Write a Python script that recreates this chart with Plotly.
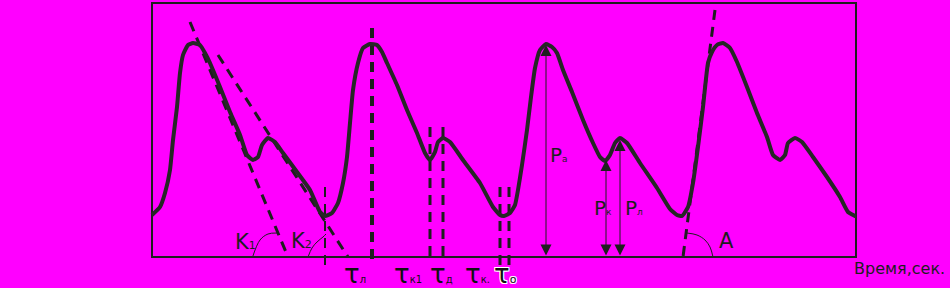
import plotly.graph_objects as go

# ---- data (time in ms, pressure in arbitrary units) ----
time_ms = [0, 40, 65, 90, 105, 125, 140, 155, 180, 205, 240, 265, 290, 340, 390, 440, 475, 505, 530, 550, 580, 615, 655, 725, 790, 840, 865,
           900, 930, 955, 975, 990, 1005, 1030, 1055, 1090, 1125, 1150, 1175, 1225, 1275, 1325, 1365, 1390, 1415, 1430, 1455, 1490, 1555, 1640, 1705, 1740, 1760,
           1790, 1815, 1830, 1850, 1875, 1895, 1915, 1940, 1970, 2000, 2025, 2055, 2100, 2155, 2205, 2240, 2265, 2290, 2315, 2340, 2375, 2440, 2525, 2590, 2625, 2650,
           2680, 2705, 2730, 2755, 2780, 2800, 2825, 2855, 2890, 2925, 2975, 3025, 3075, 3105, 3140, 3165, 3180, 3215, 3250, 3305, 3375, 3440, 3480, 3515, 3520]
pressure = [42, 50, 64, 87, 117, 150, 184, 202, 212, 214, 212, 204, 194, 170, 145, 122, 102, 97, 100, 112, 119, 115, 104, 85, 67, 45, 41,
            44, 54, 74, 100, 134, 167, 194, 209, 213, 212, 205, 194, 172, 147, 124, 104, 97, 105, 115, 119, 115, 97, 74, 50, 42, 41,
            44, 52, 67, 92, 127, 160, 189, 207, 213, 210, 204, 187, 165, 137, 114, 100, 96, 102, 114, 119, 114, 94, 69, 48, 42, 41,
            50, 74, 110, 150, 194, 205, 212, 214, 209, 195, 170, 144, 120, 102, 97, 102, 114, 119, 115, 100, 80, 60, 45, 41, 41]

frame_t = [0, 3520]
frame_p = [0, 254]

k1_line_t = [190, 680]
k1_line_p = [235, 0]
k2_line_t = [330, 980]
k2_line_p = [202, 0]
a_line_t = [2815, 2655]
a_line_p = [247, 0]

k1_arc_t = [503, 540, 580, 625]
k1_arc_p = [0, 17, 23, 24]
k2_arc_t = [780, 800, 825, 855, 870]
k2_arc_p = [0, 9, 15, 20, 23]
a_arc_t = [2675, 2725, 2765, 2790, 2805]
a_arc_p = [24, 22, 17, 10, 0]

tau_marks_t = [865, 1100, 1390, 1455, 1740, 1785]
tau_marks_top = [70, 229, 130, 130, 70, 70]
tau_marks_bottom = [-10, -6, -6, -6, -10, -10]

p_arrows_t = [1970, 2270, 2340]
p_arrows_top = [212, 97, 117]

y_title = "Давление, у.е."
x_title = "Время,сек."
angle_labels = ["K<span style='font-size:11px'>1</span>", "K<span style='font-size:11px'>2</span>", "A"]
angle_label_t = [405, 685, 2825]
angle_label_p = [15, 16, 16]
tau_labels = ["τ<span style='font-size:10px'>л</span>", "τ<span style='font-size:10px'>к1</span>",
              "τ<span style='font-size:10px'>д</span>", "τ<span style='font-size:10px'>к.</span>",
              "τ<span style='font-size:11px'>о</span>"]
tau_label_t = [950, 1200, 1380, 1555, 1700]
tau_label_p = -17
p_labels = ["P<span style='font-size:9px'>а</span>", "P<span style='font-size:9px'>к</span>", "P<span style='font-size:9px'>л</span>"]
p_label_t = [1980, 2200, 2355]
p_label_p = [102, 49, 49]

INK = "#1e1e1e"
FONT = "DejaVu Sans"

fig = go.Figure()

# frame
fig.add_shape(type="rect", xref="x", yref="y", x0=frame_t[0], x1=frame_t[1], y0=frame_p[0], y1=frame_p[1],
              line=dict(color=INK, width=2), layer="below")

# tangent dashed lines
for tt, pp in [(k1_line_t, k1_line_p), (k2_line_t, k2_line_p), (a_line_t, a_line_p)]:
    fig.add_trace(go.Scatter(x=tt, y=pp, mode="lines", line=dict(color=INK, width=3, dash="10px,7px"),
                             hoverinfo="skip", showlegend=False))

# vertical tau markers
mark_widths = [2, 4, 3, 3, 3, 3]
for xv, top, bot, w in zip(tau_marks_t, tau_marks_top, tau_marks_bottom, mark_widths):
    fig.add_trace(go.Scatter(x=[xv, xv], y=[top, bot], mode="lines",
                             line=dict(color=INK, width=w, dash="10px,7px"),
                             hoverinfo="skip", showlegend=False))

# angle arcs
for tt, pp in [(k1_arc_t, k1_arc_p), (k2_arc_t, k2_arc_p), (a_arc_t, a_arc_p)]:
    fig.add_trace(go.Scatter(x=tt, y=pp, mode="lines", line=dict(color=INK, width=1, shape="spline"),
                             hoverinfo="skip", showlegend=False))

# pulse curve
fig.add_trace(go.Scatter(x=time_ms, y=pressure, mode="lines",
                         line=dict(color="#262626", width=4, shape="spline", smoothing=0.45),
                         hoverinfo="skip", showlegend=False))

ann = []
for xv, top in zip(p_arrows_t, p_arrows_top):
    ann.append(dict(x=xv, y=top, ax=xv, ay=0, xref="x", yref="y", axref="x", ayref="y", text="",
                    showarrow=True, arrowside="end+start", arrowhead=2, startarrowhead=2,
                    arrowsize=2.2, startarrowsize=2.2, arrowwidth=1, arrowcolor=INK,
                    standoff=0, startstandoff=0))

ann.append(dict(x=-635, y=248, xref="x", yref="y", text=y_title, showarrow=False, xanchor="left", yanchor="middle",
                font=dict(family=FONT, size=16, color=INK)))
ann.append(dict(x=3500, y=-11, xref="x", yref="y", text=x_title, showarrow=False, xanchor="left", yanchor="middle",
                font=dict(family=FONT, size=16, color=INK)))
for txt, xv, yv in zip(angle_labels, angle_label_t, angle_label_p):
    ann.append(dict(x=xv, y=yv, xref="x", yref="y", text=txt, showarrow=False, xanchor="left", yanchor="middle",
                    font=dict(family=FONT, size=21, color=INK)))
for i, (txt, xv) in enumerate(zip(tau_labels, tau_label_t)):
    f = dict(family=FONT, size=26, color="#111111")
    if i == len(tau_labels) - 1:
        f["shadow"] = "1px 1px 0 #fff, -1px -1px 0 #fff, 1px -1px 0 #fff, -1px 1px 0 #fff"
    ann.append(dict(x=xv, y=tau_label_p, xref="x", yref="y", text=txt, showarrow=False, xanchor="left", yanchor="middle",
                    font=f))
for txt, xv, yv in zip(p_labels, p_label_t, p_label_p):
    ann.append(dict(x=xv, y=yv, xref="x", yref="y", text=txt, showarrow=False, xanchor="left", yanchor="middle",
                    font=dict(family=FONT, size=20, color=INK)))

fig.update_layout(
    width=950, height=288, autosize=False,
    margin=dict(l=142, r=84, t=0, b=0),
    paper_bgcolor="#ff00ff", plot_bgcolor="#ff00ff",
    xaxis=dict(range=[-50, 3570], visible=False, fixedrange=True),
    yaxis=dict(range=[-31, 257], visible=False, fixedrange=True),
    annotations=ann,
    showlegend=False,
)

fig.write_html("out.html")
